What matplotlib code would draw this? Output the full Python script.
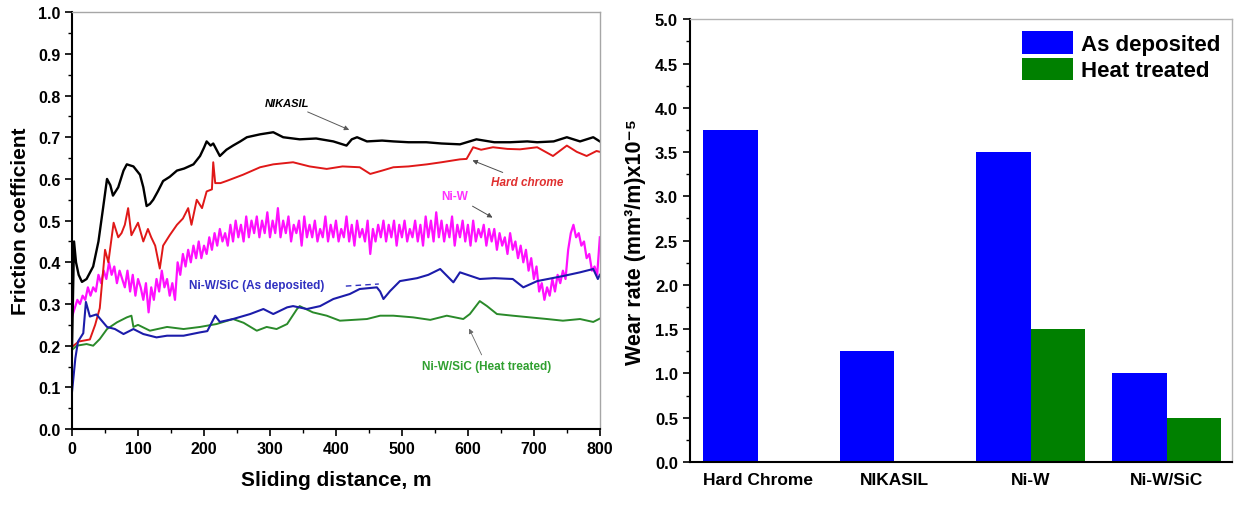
import matplotlib.pyplot as plt
import numpy as np

plt.rcParams['font.family'] = ['Liberation Sans', 'DejaVu Sans']
plt.rcParams['font.weight'] = 'bold'
plt.rcParams['axes.labelweight'] = 'bold'

# friction curves (distance in m, friction coefficient)
nikasil_d = [0, 3, 6, 10, 15, 22, 32, 40, 47, 53, 58, 62, 70, 78, 83, 93, 103, 108, 113, 118,
             123, 130, 138, 148, 159, 170, 184, 194, 200, 204, 210, 214, 219, 224, 234, 244, 255,
             265, 285, 305, 320, 345, 370, 396, 416, 424, 432, 447, 470, 487, 510, 537, 560, 588,
             613, 640, 664, 690, 705, 730, 750, 770, 790, 800]
nikasil_f = [0.20, 0.45, 0.40, 0.37, 0.353, 0.36, 0.39, 0.45, 0.53, 0.60, 0.585, 0.56, 0.58, 0.62,
             0.635, 0.63, 0.61, 0.58, 0.535, 0.54, 0.55, 0.57, 0.595, 0.605, 0.62, 0.625, 0.635,
             0.655, 0.675, 0.69, 0.68, 0.685, 0.67, 0.655, 0.67, 0.68, 0.69, 0.70, 0.707, 0.712,
             0.70, 0.695, 0.697, 0.69, 0.68, 0.695, 0.70, 0.69, 0.692, 0.69, 0.688, 0.688, 0.685,
             0.683, 0.695, 0.688, 0.688, 0.69, 0.688, 0.69, 0.70, 0.69, 0.70, 0.69]

chrome_d = [0, 10, 27, 35, 42, 50, 55, 63, 70, 75, 80, 85, 90, 95, 100, 108, 115, 120, 126, 133,
            138, 148, 159, 168, 176, 181, 189, 197, 204, 212, 214, 217, 225, 234, 259, 285, 305,
            335, 360, 386, 410, 436, 452, 470, 487, 510, 538, 560, 588, 598, 608, 620, 638, 660,
            679, 705, 729, 750, 765, 780, 795, 800]
chrome_f = [0.197, 0.21, 0.215, 0.25, 0.29, 0.43, 0.40, 0.495, 0.46, 0.47, 0.49, 0.53, 0.465,
            0.48, 0.495, 0.45, 0.48, 0.46, 0.44, 0.385, 0.44, 0.465, 0.49, 0.505, 0.53, 0.49,
            0.55, 0.53, 0.57, 0.575, 0.64, 0.59, 0.59, 0.595, 0.61, 0.628, 0.635, 0.64, 0.63,
            0.624, 0.63, 0.628, 0.612, 0.62, 0.628, 0.63, 0.635, 0.64, 0.647, 0.648, 0.676, 0.67,
            0.676, 0.672, 0.671, 0.676, 0.655, 0.68, 0.665, 0.655, 0.667, 0.665]

# Ni-W every 4 m (noisy band)
niw_d = list(range(0, 801, 4))
niw_f = [0.27, 0.29, 0.31, 0.30, 0.32, 0.31, 0.34, 0.32, 0.34, 0.33,
         0.37, 0.35, 0.38, 0.36, 0.40, 0.37, 0.39, 0.35, 0.38, 0.36,
         0.34, 0.38, 0.33, 0.37, 0.32, 0.36, 0.34, 0.31, 0.35, 0.28,
         0.34, 0.31, 0.36, 0.33, 0.38, 0.34, 0.36, 0.32, 0.35, 0.31,
         0.40, 0.37, 0.42, 0.39, 0.43, 0.40, 0.44, 0.41, 0.45, 0.41,
         0.44, 0.42, 0.46, 0.43, 0.47, 0.44, 0.48, 0.45, 0.47, 0.44,
         0.49, 0.45, 0.50, 0.46, 0.49, 0.45, 0.51, 0.46, 0.50, 0.47,
         0.51, 0.46, 0.50, 0.47, 0.52, 0.46, 0.50, 0.47, 0.53, 0.46,
         0.50, 0.47, 0.51, 0.45, 0.49, 0.47, 0.50, 0.44, 0.51, 0.46,
         0.49, 0.46, 0.50, 0.45, 0.48, 0.46, 0.51, 0.45, 0.49, 0.46,
         0.50, 0.45, 0.48, 0.46, 0.51, 0.45, 0.49, 0.44, 0.50, 0.46,
         0.48, 0.45, 0.50, 0.42, 0.48, 0.45, 0.49, 0.46, 0.50, 0.45,
         0.49, 0.46, 0.50, 0.44, 0.49, 0.46, 0.50, 0.45, 0.48, 0.46,
         0.50, 0.45, 0.49, 0.44, 0.51, 0.46, 0.50, 0.45, 0.52, 0.46,
         0.50, 0.45, 0.49, 0.46, 0.51, 0.44, 0.49, 0.46, 0.50, 0.45,
         0.49, 0.44, 0.50, 0.45, 0.48, 0.46, 0.49, 0.44, 0.48, 0.45,
         0.48, 0.43, 0.47, 0.44, 0.46, 0.42, 0.47, 0.43, 0.45, 0.41,
         0.44, 0.40, 0.43, 0.38, 0.41, 0.36, 0.39, 0.33, 0.35, 0.31,
         0.34, 0.32, 0.36, 0.33, 0.37, 0.35, 0.38, 0.36, 0.43, 0.47,
         0.49, 0.46, 0.47, 0.44, 0.45, 0.41, 0.42, 0.38, 0.39, 0.37,
         0.46]

sic_ad_d = [0, 5, 9, 17, 21, 27, 37, 45, 53, 65, 78, 93, 108, 128, 144, 169, 194, 205, 217, 224,
            244, 270, 290, 305, 326, 335, 356, 376, 396, 421, 436, 462, 467, 472, 482, 497, 523,
            540, 558, 578, 588, 618, 640, 668, 684, 705, 744, 770, 790, 797, 800]
sic_ad_f = [0.09, 0.17, 0.21, 0.23, 0.305, 0.27, 0.275, 0.26, 0.245, 0.24, 0.228, 0.24, 0.228,
            0.22, 0.224, 0.224, 0.232, 0.235, 0.272, 0.257, 0.264, 0.276, 0.288, 0.276, 0.292,
            0.295, 0.288, 0.295, 0.312, 0.324, 0.336, 0.34, 0.33, 0.312, 0.331, 0.355, 0.362,
            0.37, 0.384, 0.352, 0.376, 0.36, 0.362, 0.36, 0.34, 0.355, 0.367, 0.376, 0.384,
            0.36, 0.37]

sic_ht_d = [0, 7, 22, 32, 42, 53, 68, 83, 90, 93, 100, 118, 144, 169, 194, 219, 244, 260, 280,
            295, 310, 326, 341, 345, 365, 386, 406, 447, 467, 487, 517, 543, 568, 593, 603, 618,
            629, 644, 668, 694, 720, 744, 770, 790, 800]
sic_ht_f = [0.19, 0.2, 0.204, 0.2, 0.216, 0.24, 0.256, 0.268, 0.272, 0.245, 0.25, 0.236, 0.245,
            0.24, 0.245, 0.252, 0.264, 0.255, 0.236, 0.245, 0.24, 0.252, 0.288, 0.295, 0.28,
            0.272, 0.26, 0.264, 0.272, 0.272, 0.268, 0.262, 0.272, 0.264, 0.276, 0.307, 0.295,
            0.276, 0.272, 0.268, 0.264, 0.26, 0.264, 0.257, 0.265]

# wear rate bars
materials = ['Hard Chrome', 'NIKASIL', 'Ni-W', 'Ni-W/SiC']
as_deposited = [3.75, 1.25, 3.5, 1.0]
heat_treated = [0, 0, 1.5, 0.5]

fig = plt.figure(figsize=(12.36, 5.06), dpi=100)

# ---- left: friction coefficient ----
ax1 = fig.add_axes([0.0583, 0.150, 0.427, 0.824])
ax1.plot(niw_d, niw_f, color='#ff10ff', lw=1.6)
ax1.plot(chrome_d, chrome_f, color='#e01818', lw=1.4)
ax1.plot(nikasil_d, nikasil_f, color='black', lw=1.7)
ax1.plot(sic_ht_d, sic_ht_f, color='#2a8a2a', lw=1.4)
ax1.plot(sic_ad_d, sic_ad_f, color='#1c1caa', lw=1.5)

ax1.set_xlim(0, 800)
ax1.set_ylim(0, 1.0)
ax1.set_xticks(np.arange(0, 801, 100))
ax1.set_xticks(np.arange(50, 800, 100), minor=True)
ax1.set_yticks(np.arange(0, 1.01, 0.1))
ax1.set_yticks(np.arange(0.05, 1.0, 0.1), minor=True)
ax1.yaxis.set_major_formatter(plt.FormatStrFormatter('%.1f'))
ax1.tick_params(labelsize=11.5, width=1.2, length=5, top=False, right=False)
ax1.tick_params(which='minor', width=1.0, length=3)
ax1.set_xlabel('Sliding distance, m', fontsize=15, labelpad=10)
ax1.set_ylabel('Friction coefficient', fontsize=15, labelpad=6)
for s in ['left', 'bottom']:
    ax1.spines[s].set_linewidth(1.5)
for s in ['top', 'right']:
    ax1.spines[s].set_color('0.65')
    ax1.spines[s].set_linewidth(1.0)

ax1.annotate('NIKASIL', xy=(424, 0.715), xytext=(326, 0.782), fontsize=8, style='italic',
             ha='center', va='center', color='black',
             arrowprops=dict(arrowstyle='-|>', lw=0.7, color='0.35', mutation_scale=7))
ax1.annotate('Hard chrome', xy=(603, 0.647), xytext=(690, 0.592), fontsize=8.5, style='italic',
             ha='center', va='center', color='#e03030',
             arrowprops=dict(arrowstyle='-|>', lw=0.7, color='0.3', mutation_scale=7))
ax1.annotate('Ni-W', xy=(641, 0.504), xytext=(580, 0.559), fontsize=8.5,
             ha='center', va='center', color='#ff30ff',
             arrowprops=dict(arrowstyle='-|>', lw=0.7, color='0.3', mutation_scale=7))
ax1.text(280, 0.345, 'Ni-W/SiC (As deposited)', fontsize=8.5, ha='center', va='center',
         color='#3030c0')
ax1.plot([415, 465], [0.343, 0.348], color='#3030c0', lw=1.0, ls=(0, (4, 3)))
ax1.annotate('Ni-W/SiC (Heat treated)', xy=(600, 0.247), xytext=(629, 0.151), fontsize=8.5,
             ha='center', va='center', color='#30a030',
             arrowprops=dict(arrowstyle='-|>', lw=0.6, color='0.4', mutation_scale=7))

# ---- right: wear rate ----
ax2 = fig.add_axes([0.558, 0.085, 0.439, 0.875])
x = np.arange(len(materials))
w = 0.4
ax2.bar(x - w / 2, as_deposited, w, color='#0000ff', label='As deposited')
ax2.bar(x + w / 2, heat_treated, w, color='#008000', label='Heat treated')
ax2.set_xlim(-0.5, 3.48)
ax2.set_ylim(0, 5.0)
ax2.set_xticks(x)
ax2.set_xticklabels(materials)
ax2.set_yticks(np.arange(0, 5.01, 0.5))
ax2.set_yticks(np.arange(0.25, 5.0, 0.5), minor=True)
ax2.yaxis.set_major_formatter(plt.FormatStrFormatter('%.1f'))
ax2.tick_params(axis='y', labelsize=12, width=1.2, length=5)
ax2.tick_params(axis='y', which='minor', width=1.0, length=3)
ax2.tick_params(axis='x', length=0, labelsize=12.5, pad=7)
ax2.set_ylabel('Wear rate (mm³/m)x10⁻⁵', fontsize=15.5, labelpad=6)
for s in ['left', 'bottom']:
    ax2.spines[s].set_linewidth(1.5)
for s in ['top', 'right']:
    ax2.spines[s].set_color('0.7')
    ax2.spines[s].set_linewidth(1.0)
ax2.legend(loc='upper right', frameon=False, fontsize=16, handlelength=2.3,
           handleheight=1.15, handletextpad=0.35, labelspacing=0.12, borderaxespad=0.15)

fig.savefig('out.png', dpi=100)
